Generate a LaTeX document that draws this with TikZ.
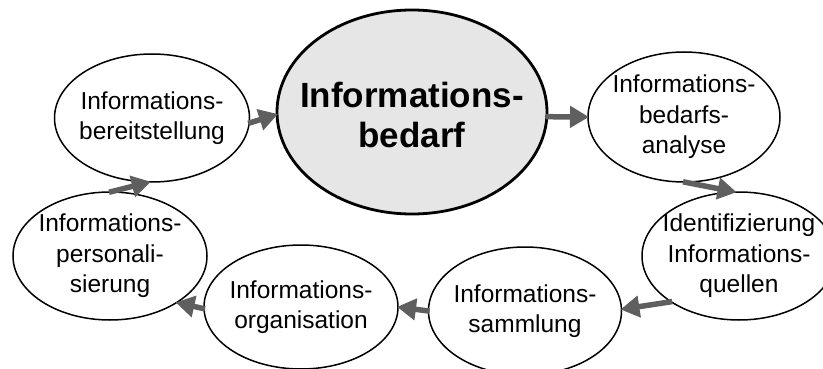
\documentclass[tikz,border=0pt]{standalone}
\usepackage{fontspec}
\setmainfont{Liberation Sans}
\usetikzlibrary{shapes.geometric,arrows.meta}
\definecolor{flowgray}{HTML}{5F5F5F}
\definecolor{corefill}{HTML}{E6E6E6}
\tikzset{
  phase/.style={ellipse, draw=black, line width=1.5pt, fill=white, inner sep=0pt,
    outer sep=0pt},
  phasetext/.style={label={[align=center, inner sep=0pt,
    font=\fontsize{24.5}{30.5}\selectfont]center:#1}},
  core/.style={phase, line width=2.8pt, fill=corefill},
  coretext/.style={label={[align=center, inner sep=0pt, yshift=-3pt,
    font=\fontsize{35}{40}\selectfont\bfseries]center:#1}},
  flow/.style={draw=flowgray, line width=5.5pt,
    -{Triangle[length=19pt,width=21pt]}, shorten <=-1pt, shorten >=-1pt}
}
\begin{document}
\begin{tikzpicture}[x=1pt,y=-1pt]
  \useasboundingbox (0,0) rectangle (823,369);

  % cycle of phases
  \node[core,  minimum width=270pt, minimum height=204pt,
        coretext={Informations-\\bedarf}] (bedarf) at (412,112) {};
  \node[phase, minimum width=192pt, minimum height=130pt,
        phasetext={Informations-\\bedarfs-\\analyse}] (analyse) at (684,117) {};
  \node[phase, minimum width=194pt, minimum height=128pt,
        phasetext={Identifizierung\\Informations-\\quellen}] (quellen) at (739,256) {};
  \node[phase, minimum width=193pt, minimum height=128pt,
        phasetext={Informations-\\sammlung}] (sammlung) at (525,311) {};
  \node[phase, minimum width=194pt, minimum height=124pt,
        phasetext={Informations-\\organisation}] (orga) at (301,307) {};
  \node[phase, minimum width=194pt, minimum height=128pt,
        phasetext={Informations-\\personali-\\sierung}] (person) at (110,256) {};
  \node[phase, minimum width=195pt, minimum height=128pt,
        phasetext={Informations-\\bereitstellung}] (bereit) at (152,118) {};

  % transitions between phases
  \draw[flow] (bereit.-3)    -- (bedarf.181);
  \draw[flow] (bedarf.-2)    -- (analyse.180);
  \draw[flow] (analyse.-90)  -- (quellen.93);
  \draw[flow] (quellen.214)  -- (sammlung.1);
  \draw[flow] (sammlung.180) -- (orga.0);
  \draw[flow] (orga.181)     -- (person.-35);
  \draw[flow] (person.90)    -- (bereit.-92);
\end{tikzpicture}
\end{document}
